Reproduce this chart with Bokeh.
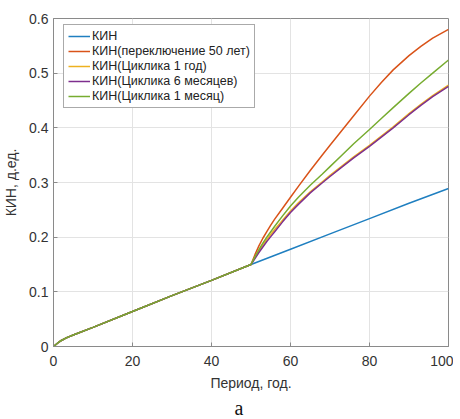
from bokeh.plotting import figure
from bokeh.models import Legend, LegendItem, Title, FixedTicker, Range1d
from bokeh.embed import file_html
from bokeh.resources import INLINE

# ---- data ----
x_base = [0, 1, 2, 3, 4, 5, 10, 20, 30, 40, 50]
y_base = [0.0, 0.006, 0.011, 0.015, 0.018, 0.021, 0.035, 0.064, 0.093, 0.121, 0.150]

x_blue_tail = [60, 70, 80, 90, 100]
y_blue_tail = [0.178, 0.206, 0.234, 0.262, 0.289]

x_tail = [51, 52, 53, 54, 55, 56, 58, 60, 62, 65, 68, 70, 73, 76, 80, 83, 86, 90, 93, 96, 100]
y_orange = [0.168, 0.184, 0.198, 0.210, 0.222, 0.233, 0.253, 0.273, 0.293, 0.322, 0.350, 0.368,
            0.395, 0.422, 0.458, 0.483, 0.506, 0.532, 0.549, 0.564, 0.580]
y_yellow = [0.163, 0.175, 0.186, 0.196, 0.205, 0.214, 0.231, 0.248, 0.263, 0.283, 0.301, 0.313,
            0.330, 0.347, 0.368, 0.385, 0.402, 0.426, 0.443, 0.459, 0.478]
y_purple = [0.161, 0.172, 0.182, 0.192, 0.201, 0.210, 0.228, 0.245, 0.260, 0.281, 0.299, 0.311,
            0.328, 0.345, 0.366, 0.383, 0.400, 0.424, 0.441, 0.457, 0.476]
y_green = [0.164, 0.177, 0.189, 0.200, 0.210, 0.220, 0.239, 0.257, 0.273, 0.295, 0.315, 0.329,
           0.350, 0.371, 0.397, 0.417, 0.437, 0.463, 0.482, 0.500, 0.524]

labels = ["КИН", "КИН(переключение 50 лет)", "КИН(Циклика 1 год)",
          "КИН(Циклика 6 месяцев)", "КИН(Циклика 1 месяц)"]
colors = ["#1f7fc0", "#D95319", "#EDB120", "#7E2F8E", "#77AC30"]
caption = "а"

x_ticks = [0, 20, 40, 60, 80, 100]
y_ticks = [0, 0.1, 0.2, 0.3, 0.4, 0.5, 0.6]

FONT = "Liberation Sans"
AX = "#8a8a8a"
TXT = "#333333"

p = figure(frame_width=395, frame_height=328, output_backend="svg", toolbar_location=None,
           x_range=Range1d(0, 100), y_range=Range1d(0, 0.6),
           min_border_left=44, min_border_right=5, min_border_top=18, min_border_bottom=0)

series = [
    (x_base + x_blue_tail, y_base + y_blue_tail),
    (x_base + x_tail, y_base + y_orange),
    (x_base + x_tail, y_base + y_yellow),
    (x_base + x_tail, y_base + y_purple),
    (x_base + x_tail, y_base + y_green),
]
renderers = []
for (xs, ys), c in zip(series, colors):
    r = p.line(xs, ys, line_color=c, line_width=1.5)
    renderers.append(r)

legend = Legend(items=[LegendItem(label=l, renderers=[r]) for l, r in zip(labels, renderers)])
legend.margin = 0
legend.location = (10, 238)
legend.label_text_font = FONT
legend.label_text_font_size = "12.5px"
legend.label_text_color = "#222222"
legend.glyph_width = 22
legend.glyph_height = 14
legend.label_height = 14
legend.spacing = 1
legend.padding = 4
legend.label_standoff = 2
legend.border_line_color = "#555555"
legend.border_line_width = 1
legend.background_fill_alpha = 1.0
p.add_layout(legend)

p.xaxis.ticker = FixedTicker(ticks=x_ticks)
p.yaxis.ticker = FixedTicker(ticks=y_ticks)
p.yaxis.major_label_overrides = {0: "0", 0.1: "0.1", 0.2: "0.2", 0.3: "0.3", 0.4: "0.4",
                                 0.5: "0.5", 0.6: "0.6"}
for ax in (p.xaxis[0], p.yaxis[0]):
    ax.axis_line_color = AX
    ax.major_tick_line_color = AX
    ax.major_tick_in = 4
    ax.major_tick_out = 0
    ax.minor_tick_line_color = None
    ax.major_label_text_font = FONT
    ax.major_label_text_font_size = "14px"
    ax.major_label_text_color = TXT
    ax.axis_label_text_font = FONT
    ax.axis_label_text_font_size = "14px"
    ax.axis_label_text_font_style = "normal"
    ax.axis_label_text_color = TXT
p.xaxis.axis_label = "Период, год."
p.yaxis.axis_label = "КИН, д.ед."
p.xaxis.major_label_standoff = 9
p.xaxis.axis_label_standoff = 6
p.yaxis.major_label_standoff = 5
p.yaxis.axis_label_standoff = 7

p.xgrid.grid_line_color = "#e3e3e3"
p.ygrid.grid_line_color = "#e3e3e3"
p.outline_line_color = AX
p.outline_line_width = 1

cap = Title(text=caption, align="left", offset=181, text_font="Liberation Serif",
            text_font_size="20px", text_font_style="normal", text_color="#111111",
            standoff=2)
p.add_layout(cap, "below")

open("out.html", "w").write(file_html(p, INLINE))
